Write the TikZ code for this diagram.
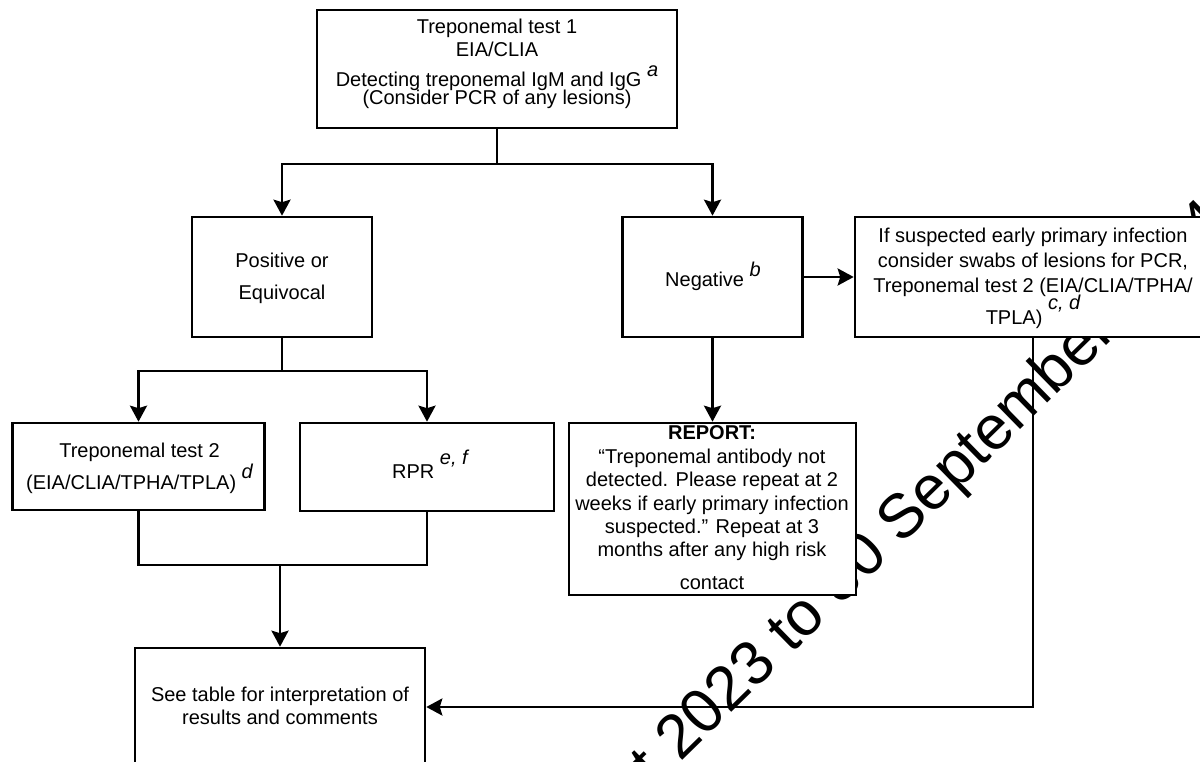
\documentclass[tikz,border=0pt]{standalone}
\usepackage{fontspec}
\setmainfont{Liberation Sans}
\usetikzlibrary{arrows.meta}
\newcommand\supit[2][10pt]{\raisebox{#1}{\itshape #2}}
\newcommand\tightls{\lineskiplimit -100pt\relax}
\begin{document}
\begin{tikzpicture}[x=1pt,y=-1pt,
  boxnode/.style={draw, line width=2.6pt, fill=white, inner sep=0pt},
  txt/.style={align=center, inner sep=0pt, font=\fontsize{20}{23}\selectfont\tightls},
  conn/.style={line width=2.6pt},
  arr/.style={conn, -{Stealth[length=16pt,width=17pt,inset=2.5pt]}},
  wm/.style={font=\fontsize{62}{66}\selectfont, inner sep=0pt, anchor=base west, rotate=44.4}]
\useasboundingbox (0,0) rectangle (1200,762);
\fill[white] (0,0) rectangle (1200,762);
\node[wm] (wmark) at (530,910) {August 2023 to 30 September 2024};

\node[boxnode, minimum width=360pt, minimum height=118pt] (top) at (497,69) {};
\node[txt] (toptxt) at (497,63.5) {Treponemal test 1\\EIA/CLIA\\[7pt]Detecting treponemal IgM and IgG \supit{a}\\[-5pt](Consider PCR of any lesions)};

\node[boxnode, minimum width=180pt, minimum height=120pt] (pos) at (282,277) {};
\node[txt] (postxt) at (282,278) {Positive or\\[9pt]Equivocal};

\node[boxnode, minimum width=180pt, minimum height=120pt] (neg) at (712.5,277) {};
\node[txt] (negtxt) at (713,276) {Negative \supit{b}};

\node[boxnode, minimum width=356pt, minimum height=120pt] (rbox) at (1033,277) {};
\node[txt, font=\fontsize{20}{25}\selectfont\tightls] (rtxt) at (1033,278) {If suspected early primary infection\\consider swabs of lesions for PCR,\\Treponemal test 2 (EIA/CLIA/TPHA/\\[7pt]TPLA) \supit[15pt]{c, d}};

\node[boxnode, minimum width=252pt, minimum height=87pt] (t2) at (138.5,466.5) {};
\node[txt] (t2txt) at (139.5,468) {Treponemal test 2\\[9pt](EIA/CLIA/TPHA/TPLA) \supit[11pt]{d}};

\node[boxnode, minimum width=254pt, minimum height=88pt] (rpr) at (427,467) {};
\node[txt] (rprtxt) at (430,464) {RPR \supit[14pt]{e, f}};

\node[boxnode, minimum width=287pt, minimum height=172pt] (rep) at (712.5,509) {};
\node[txt, font=\fontsize{20}{23.4}\selectfont\tightls] (reptxt) at (712,508) {\textbf{REPORT:}\\“Treponemal antibody not\\detected. Please repeat at 2\\weeks if early primary infection\\suspected.” Repeat at 3\\months after any high risk\\[9.6pt]contact};

\node[boxnode, minimum width=290pt, minimum height=118pt] (res) at (280,707) {};
\node[txt] (restxt) at (280,706.3) {See table for interpretation of\\results and comments};

\coordinate (s1) at (497,164);
\coordinate (s2) at (282,371);
\coordinate (s3) at (280,565);

\draw[conn] (top.south) -- (s1);
\draw[arr] (s1) -| (pos.north);
\draw[arr] (s1) -| (neg.north);
\draw[arr] (neg.east) -- (rbox.west);
\draw[arr] (neg.south) -- (rep.north);
\draw[conn] (pos.south) -- (s2);
\draw[arr] (s2) -| (t2.north);
\draw[arr] (s2) -| (rpr.north);
\draw[conn] (t2.south) |- (s3);
\draw[conn] (rpr.south) |- (s3);
\draw[arr] (s3) -- (res.north);
\draw[arr] (rbox.south) |- (res.east);
\end{tikzpicture}
\end{document}
